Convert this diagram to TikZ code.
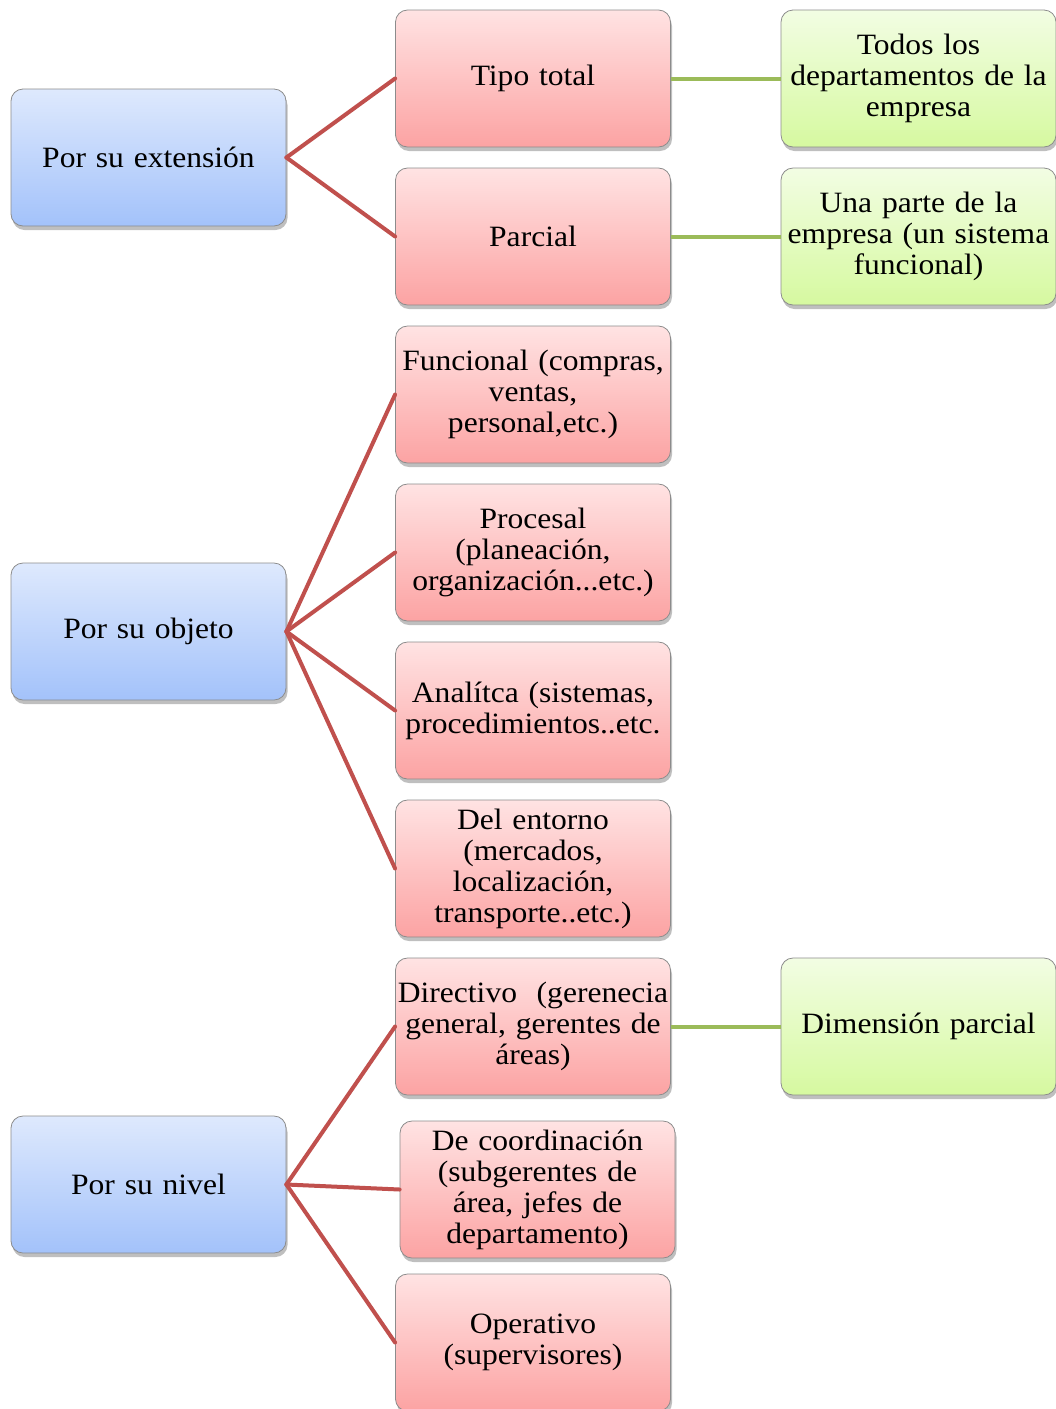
\documentclass[tikz,border=0pt]{standalone}
\usepackage{fontspec}
\setmainfont[FakeStretch=1.07]{Liberation Serif}
\usetikzlibrary{shadows}

\definecolor{bluetop}{HTML}{DEE9FD}
\definecolor{bluebot}{HTML}{A3C2FA}
\definecolor{pinktop}{HTML}{FFE3E3}
\definecolor{pinkbot}{HTML}{FCA3A3}
\definecolor{greentop}{HTML}{F2FDE3}
\definecolor{greenbot}{HTML}{D6F9A0}
\definecolor{boxline}{HTML}{8C8C8C}
\definecolor{redlink}{HTML}{C0504D}
\definecolor{greenlink}{HTML}{9BBB59}

\tikzset{
  card/.style={draw=boxline, line width=0.8pt, rounded corners=12pt,
    minimum width=275pt, minimum height=137pt, text width=270pt,
    align=center, inner sep=0pt, shading=axis,
    font=\fontsize{29.5}{31}\selectfont,
    drop shadow={shadow xshift=1.5pt, shadow yshift=-4pt, fill=black, opacity=0.25}},
  topic/.style={card, top color=bluetop, bottom color=bluebot},
  branch/.style={card, top color=pinktop, bottom color=pinkbot},
  detail/.style={card, top color=greentop, bottom color=greenbot},
  redline/.style={draw=redlink, line width=4pt, line cap=round},
  greenline/.style={draw=greenlink, line width=4pt}
}

\begin{document}
\begin{tikzpicture}[x=1pt,y=-1pt]
\useasboundingbox (0,0) rectangle (1056,1409);

% first-level categories
\node[topic] (ext) at (148.5,157.5) {Por su extensión};
\node[topic] (obj) at (148.5,631.5) {Por su objeto};
\node[topic] (niv) at (148.5,1184.5) {Por su nivel};

% second-level types
\node[branch] (tot) at (533,78.5)  {Tipo total};
\node[branch] (par) at (533,236.5) {Parcial};
\node[branch] (fun) at (533,394.5) {Funcional (compras,\\ventas,\\personal,etc.)};
\node[branch] (pro) at (533,552.5) {Procesal\\(planeación,\\organización...etc.)};
\node[branch] (ana) at (533,710.5) {Analítca (sistemas,\\procedimientos..etc.};
\node[branch] (ent) at (533,868.5) {Del entorno\\(mercados,\\localización,\\transporte..etc.)};
\node[branch] (dir) at (533,1026.5) {\makebox[0pt]{Directivo\ \ (gerenecia}\\general, gerentes de\\áreas)};
\node[branch] (coo) at (537.5,1189.5) {De coordinación\\(subgerentes de\\área, jefes de\\departamento)};
\node[branch] (ope) at (533,1342.5) {Operativo\\(supervisores)};

% scope details
\node[detail] (todos) at (918.5,78.5)  {Todos los\\departamentos de la\\empresa};
\node[detail] (una)   at (918.5,236.5) {Una parte de la\\empresa (un sistema\\funcional)};
\node[detail] (dim)   at (918.5,1026.5) {Dimensión parcial};

% links
\foreach \a/\b in {ext/tot,ext/par,obj/fun,obj/pro,obj/ana,obj/ent,niv/dir,niv/coo,niv/ope}
  \draw[redline] (\a.east) -- (\b.west);
\draw[greenline] (tot.east) -- (todos.west);
\draw[greenline] (par.east) -- (una.west);
\draw[greenline] (dir.east) -- (dim.west);
\end{tikzpicture}
\end{document}
